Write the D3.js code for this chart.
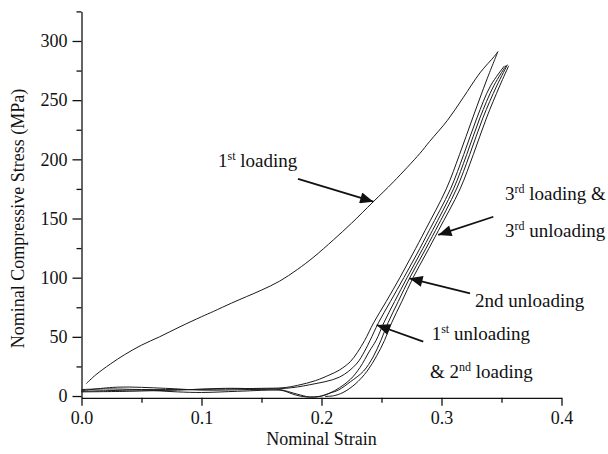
<!DOCTYPE html>
<html>
<head>
<meta charset="utf-8">
<script src="https://cdn.jsdelivr.net/npm/d3@7"></script>
<style>
  html, body { margin: 0; padding: 0; background: #fff; }
  svg text { font-family: "Liberation Serif", "Times New Roman", serif; fill: #111; }
</style>
</head>
<body>
<svg id="chart" width="608" height="454"></svg>
<script>
// Stress-strain cycles, values.
// strain (-), stress (MPa)

const loading1 = [
  [0.004, 10.5], [0.012, 18], [0.024, 27], [0.036, 35], [0.05, 43], [0.065, 50],
  [0.082, 58.5], [0.1, 67], [0.11, 71.5], [0.125, 78.5], [0.1375, 84], [0.15, 89.5],
  [0.165, 97], [0.18, 107], [0.193, 117], [0.21, 132], [0.225, 146], [0.243, 164],
  [0.26, 181], [0.282, 205], [0.29, 215], [0.305, 233], [0.318, 252], [0.332, 273],
  [0.344, 287], [0.347, 291]
];

const unloading1 = [
  [0.347, 291], [0.338, 268], [0.326, 235], [0.315, 204], [0.304, 175], [0.2864, 140],
  [0.276, 120], [0.2653, 100], [0.254, 80], [0.2435, 62], [0.236, 47], [0.23, 37],
  [0.224, 29], [0.215, 22], [0.207, 18], [0.195, 13], [0.18, 9], [0.168, 7],
  [0.15, 6.5], [0.12, 6], [0.09, 5.5], [0.05, 5.5], [0.02, 6], [0.0, 5.5]
];

const loading2 = [
  [0.0, 4.5], [0.03, 7.5], [0.07, 6.5], [0.1, 5], [0.14, 5.5], [0.17, 6.5],
  [0.19, 9.5], [0.215, 16], [0.229, 27], [0.236, 38], [0.2405, 47], [0.2475, 62],
  [0.2575, 80], [0.2686, 100], [0.2795, 120], [0.2898, 140], [0.3075, 175],
  [0.3185, 204], [0.3295, 235], [0.3408, 262], [0.3525, 279]
];

const unloading2 = [
  [0.354, 279.5], [0.3435, 262], [0.332, 235], [0.321, 204], [0.31, 175], [0.2925, 140],
  [0.282, 120], [0.2713, 100], [0.261, 80], [0.252, 62], [0.2455, 47], [0.24, 38],
  [0.232, 24], [0.224, 14], [0.215, 7], [0.207, 2.5], [0.2, 0], [0.1875, -0.8],
  [0.178, 1], [0.168, 4.5], [0.16, 5], [0.13, 4], [0.1, 3], [0.08, 3.5],
  [0.05, 5], [0.02, 4.5], [0.0, 4]
];

const loading3 = [
  [0.0, 3.5], [0.04, 4], [0.08, 5], [0.12, 6.5], [0.15, 6], [0.165, 5.5],
  [0.18, 1.5], [0.19, -0.8], [0.198, -0.5], [0.207, 2.5], [0.214, 5], [0.224, 12],
  [0.235, 21], [0.243, 33], [0.2495, 47], [0.2555, 62], [0.264, 80], [0.2736, 100],
  [0.2845, 120], [0.295, 140], [0.3125, 175], [0.3235, 204], [0.3345, 235],
  [0.346, 262], [0.355, 280]
];

const unloading3 = [
  [0.356, 279], [0.3485, 262], [0.3375, 235], [0.3265, 204], [0.3155, 175],
  [0.2975, 140], [0.287, 120], [0.2763, 100], [0.267, 80], [0.2585, 62],
  [0.2525, 47], [0.246, 34], [0.238, 21], [0.228, 10], [0.218, 3], [0.21, 0.2],
  [0.203, -0.3]
];

const curves = [loading1, unloading1, loading2, unloading2, loading3, unloading3];

const xMajor = [0, 0.1, 0.2, 0.3, 0.4];
const xMinor = [0.05, 0.15, 0.25, 0.35];
const yMajor = [0, 50, 100, 150, 200, 250, 300];
const yMinor = [25, 75, 125, 175, 225, 275, 325];

// annotation text: anchor [strain, stress] and parts [main, superscript, rest]
const labels = [
  { at: [0.1138, 193.8], parts: ["1", "st", " loading"] },
  { at: [0.3529, 165.6], parts: ["3", "rd", " loading &"] },
  { at: [0.3529, 134.6], parts: ["3", "rd", " unloading"] },
  { at: [0.3279, 75.5], parts: ["2nd unloading", "", ""] },
  { at: [0.2918, 47.3], parts: ["1", "st", " unloading"] },
  { at: [0.2904, 15.0], parts: ["& 2", "nd", " loading"] }
];

// arrows [from, to] in data units
const arrows = [
  [[0.1804, 183.4], [0.2432, 164.2]],
  [[0.3432, 151.5], [0.2973, 136.1]],
  [[0.3238, 86.8], [0.2732, 99.5]],
  [[0.2848, 45.9], [0.246, 60.0]]
];

const svg = d3.select("#chart");

const x = d3.scaleLinear().domain([0, 0.4]).range([81.5, 561.5]);
const y = d3.scaleLinear().domain([-1.5, 325]).range([397.8, 11.4]);

// curves
const line = d3.line()
  .x((d) => x(d[0]))
  .y((d) => y(d[1]))
  .curve(d3.curveCatmullRom.alpha(0.5));

svg.append("g")
  .selectAll("path")
  .data(curves)
  .join("path")
  .attr("d", line)
  .attr("fill", "none")
  .attr("stroke", "#1a1a1a")
  .attr("stroke-width", 1);

// axes
const fontSize = 18;

const gx = svg.append("g").attr("transform", `translate(0,${y(-1.5)})`);
gx.call(d3.axisBottom(x).tickValues(xMajor).tickFormat(d3.format(".1f")).tickSize(8).tickSizeOuter(0).tickPadding(5));
gx.append("g").call(d3.axisBottom(x).tickValues(xMinor).tickFormat("").tickSize(5).tickSizeOuter(0))
  .select(".domain").remove();

const gy = svg.append("g").attr("transform", `translate(${x(0)},0)`);
gy.call(d3.axisLeft(y).tickValues(yMajor).tickFormat(d3.format("d")).tickSize(9).tickSizeOuter(0).tickPadding(5));
gy.append("g").call(d3.axisLeft(y).tickValues(yMinor).tickFormat("").tickSize(5).tickSizeOuter(0))
  .select(".domain").remove();

svg.selectAll(".domain, .tick line").attr("stroke", "#111").attr("stroke-width", 1.3);
svg.selectAll(".tick text").attr("font-size", fontSize).attr("fill", "#111");

// axis titles
svg.append("text")
  .attr("x", x(0.2))
  .attr("y", 445)
  .attr("text-anchor", "middle")
  .attr("font-size", fontSize)
  .text("Nominal Strain");

svg.append("text")
  .attr("transform", `translate(24,${y(150)}) rotate(-90)`)
  .attr("text-anchor", "middle")
  .attr("font-size", fontSize)
  .text("Nominal Compressive Stress (MPa)");

// annotations
const defs = svg.append("defs");
defs.append("marker")
  .attr("id", "head")
  .attr("viewBox", "0 0 12 10")
  .attr("refX", 12)
  .attr("refY", 5)
  .attr("markerWidth", 15)
  .attr("markerHeight", 11)
  .attr("markerUnits", "userSpaceOnUse")
  .attr("orient", "auto")
  .append("path")
  .attr("d", "M0,0 L12,5 L0,10 Z")
  .attr("fill", "#111");

svg.append("g")
  .selectAll("line")
  .data(arrows)
  .join("line")
  .attr("x1", (d) => x(d[0][0]))
  .attr("y1", (d) => y(d[0][1]))
  .attr("x2", (d) => x(d[1][0]))
  .attr("y2", (d) => y(d[1][1]))
  .attr("stroke", "#111")
  .attr("stroke-width", 1.8)
  .attr("marker-end", "url(#head)");

const lab = svg.append("g")
  .selectAll("text")
  .data(labels)
  .join("text")
  .attr("x", (d) => x(d.at[0]))
  .attr("y", (d) => y(d.at[1]))
  .attr("font-size", 19);

lab.append("tspan").text((d) => d.parts[0]);
lab.append("tspan")
  .attr("font-size", 12)
  .attr("dy", -7)
  .text((d) => d.parts[1]);
lab.append("tspan")
  .attr("dy", 7)
  .text((d) => d.parts[2]);
</script>
</body>
</html>
